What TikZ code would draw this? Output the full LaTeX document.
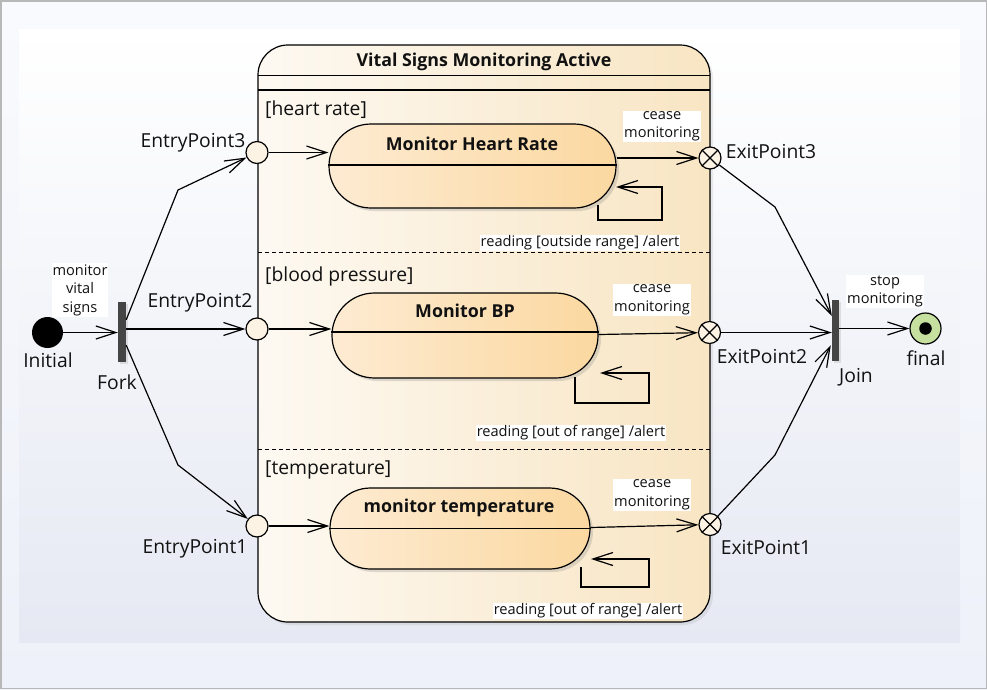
\documentclass[tikz,border=0pt]{standalone}
\usepackage{fontspec}
\setmainfont{Open Sans}
\usetikzlibrary{arrows.meta,shapes.misc,shadows,calc}
\definecolor{txt}{HTML}{111111}
\definecolor{bgTop}{HTML}{F9FAFD}
\definecolor{bgBot}{HTML}{EEF1F9}
\definecolor{inBot}{HTML}{E6E9F3}
\definecolor{compL}{HTML}{FDF9F2}
\definecolor{compR}{HTML}{F8E5C3}
\definecolor{stL}{HTML}{FDEBD2}
\definecolor{stR}{HTML}{FBD8A0}
\definecolor{entryfill}{HTML}{FDF3E4}
\definecolor{bardark}{HTML}{454545}
\definecolor{finalfill}{HTML}{C6E0A0}
\newcommand\bigf{\fontsize{19.3}{21}\selectfont}
\newcommand\smallf{\fontsize{14.6}{18.5}\selectfont}
\newcommand\boldf{\fontsize{17.8}{20}\selectfont\bfseries}
\tikzset{
  lbl/.style={font=\smallf, align=center, fill=white, inner sep=1pt, text=txt},
  biglbl/.style={font=\bigf, text=txt, inner sep=0pt},
  region/.style={font=\bigf, anchor=west, text=txt, inner sep=0pt},
  sttitle/.style={font=\boldf, text=txt, inner sep=0pt},
  stbox/.style={rounded rectangle, draw=black, line width=1.2pt, left color=stL, right color=stR,
    inner sep=0pt, drop shadow={shadow xshift=3pt, shadow yshift=-3pt, opacity=0.25}},
  entryp/.style={circle, draw=black, line width=1.2pt, fill=entryfill, minimum size=22pt, inner sep=0pt},
  exitp/.style={circle, draw=black, line width=1.2pt, fill=entryfill, minimum size=22pt, inner sep=0pt},
  barnode/.style={rectangle, fill=bardark, minimum width=8pt, minimum height=60pt, inner sep=0pt,
    drop shadow={shadow xshift=2pt, shadow yshift=-2pt, opacity=0.2}},
  conn/.style={draw=black, line width=1.2pt, -{Straight Barb[length=20pt,width=13pt,line width=1.2pt]}},
  plain/.style={draw=black, line width=1.2pt},
}
\begin{document}
\begin{tikzpicture}[x=1pt,y=-1pt]
\useasboundingbox (0,0) rectangle (987,689);
% background
\fill[top color=bgTop, bottom color=bgBot] (0,0) rectangle (987,689);
\fill[top color=white, bottom color=inBot] (19,29) rectangle (960,642);
\draw[color=black!28, line width=1.5pt] (0.75,0.75) rectangle (986.25,688.25);

% composite state
\node[rectangle, rounded corners=30pt, draw=black, line width=1.2pt, left color=compL, right color=compR,
  minimum width=452pt, minimum height=577pt, inner sep=0pt,
  drop shadow={shadow xshift=3pt, shadow yshift=-3pt, opacity=0.15}] (comp) at (484,333.5) {};
\node[sttitle] (ctitle) at (484,62) {Vital Signs Monitoring Active};
\draw[plain] (258,75.5) -- (710,75.5);
\draw[plain] (258,90) -- (710,90);
\draw[line width=1pt, dash pattern=on 4pt off 3pt] (258,252.5) -- (710,252.5);
\draw[line width=1pt, dash pattern=on 4pt off 3pt] (258,449.5) -- (710,449.5);

% region labels
\node[region] (r1) at (265,110) {[heart rate]};
\node[region] (r2) at (265,276) {[blood pressure]};
\node[region] (r3) at (265,470) {[temperature]};

% states
\node[stbox, minimum width=287pt, minimum height=84pt] (hr) at (472.5,166) {};
\draw[plain] ([yshift=1pt]hr.west) -- ([yshift=1pt]hr.east);
\node[sttitle] (hrT) at (472,144) {Monitor Heart Rate};

\node[stbox, minimum width=266pt, minimum height=85pt] (bp) at (465,335.5) {};
\draw[plain] ([yshift=3.5pt]bp.west) -- ([yshift=3.5pt]bp.east);
\node[sttitle] (bpT) at (465,311) {Monitor BP};

\node[stbox, minimum width=260pt, minimum height=81pt] (tp) at (460,528.5) {};
\draw[plain] (tp.west) -- (tp.east);
\node[sttitle] (tpT) at (459,508) {monitor temperature};

% entry / exit points
\node[entryp] (en3) at (257,152.5) {};
\node[entryp] (en2) at (257,329) {};
\node[entryp] (en1) at (257,526) {};
\node[exitp] (ex3) at (710,158) {};
\node[exitp] (ex2) at (709.5,332.5) {};
\node[exitp] (ex1) at (710,524.5) {};
\foreach \e in {ex1,ex2,ex3}{
  \draw[line width=1.2pt] (\e.45) -- (\e.225) (\e.135) -- (\e.315);
}

% pseudo states
\node[circle, fill=black, minimum size=31pt, inner sep=0pt] (init) at (47.5,332.5) {};
\node[barnode] (fork) at (122,332) {};
\node[barnode, minimum width=7pt, minimum height=61pt] (join) at (835.5,330.5) {};
\node[circle, draw=black, line width=1.2pt, fill=finalfill, minimum size=31pt, inner sep=0pt] (final) at (925.5,328.5) {};
\node[circle, fill=black, minimum size=12.5pt, inner sep=0pt] (finaldot) at (final.center) {};

% labels of pseudo states and points
\node[biglbl] (linit) at (48,360) {Initial};
\node[biglbl] (lfork) at (117,382) {Fork};
\node[biglbl] (ljoin) at (856,377) {Join};
\node[biglbl] (lfinal) at (926,358) {final};
\node[biglbl] (len3) at (193,143) {EntryPoint3};
\node[biglbl] (len2) at (200,303) {EntryPoint2};
\node[biglbl] (len1) at (195,549) {EntryPoint1};
\node[biglbl] (lex3) at (771,152) {ExitPoint3};
\node[biglbl] (lex2) at (762,357) {ExitPoint2};
\node[biglbl] (lex1) at (766,547) {ExitPoint1};

% transitions outside
\draw[conn] (init) -- (fork.west |- init);
\draw[conn] (fork.east |- en2) -- (en2);
\coordinate (fk3) at (178,190);
\coordinate (fk1) at (178,465);
\draw[conn] ($(fork.north east)+(0,18)$) -- (fk3) -- (en3);
\draw[conn] ($(fork.south east)+(0,-17)$) -- (fk1) -- (en1);
\coordinate (jn3) at (775,207);
\coordinate (jn1) at (775,455);
\draw[conn] (ex3) -- (jn3) -- ($(join.north west)+(0,16)$);
\draw[conn] (ex2) -- (join.west |- ex2);
\draw[conn] (ex1) -- (jn1) -- ($(join.south west)+(-1,-16)$);
\draw[conn] (join.east |- final) -- (final);
\node[lbl] (lmon) at (80,290) {monitor\\vital\\signs};
\node[lbl] (lstop) at (885,291.5) {stop\\monitoring};

% transitions inside
\draw[conn] (en3) -- (hr.west |- en3);
\draw[conn] (en2) -- (bp.west |- en2);
\draw[conn] (en1) -- (tp.west |- en1);
\draw[conn] ($(hr.east)+(0,-8)$) -- (ex3);
\draw[conn] ($(bp.east)+(0,-1)$) -- (ex2);
\draw[conn] ($(tp.east)+(0,-1)$) -- (ex1);

% self loops
\coordinate (hl1) at (598,205);
\coordinate (hl2) at (598,220);
\coordinate (hl3) at (662,220);
\coordinate (hl4) at (662,187);
\coordinate (hl5) at (616,187);
\draw[conn] (hl1) -- (hl2) -- (hl3) -- (hl4) -- (hl5);
\coordinate (bl1) at (575,377);
\coordinate (bl2) at (575,403);
\coordinate (bl3) at (649,403);
\coordinate (bl4) at (649,373);
\coordinate (bl5) at (600,373);
\draw[conn] (bl1) -- (bl2) -- (bl3) -- (bl4) -- (bl5);
\coordinate (tl1) at (581,567);
\coordinate (tl2) at (581,587);
\coordinate (tl3) at (649,587);
\coordinate (tl4) at (649,559);
\coordinate (tl5) at (591,559);
\draw[conn] (tl1) -- (tl2) -- (tl3) -- (tl4) -- (tl5);

% transition labels
\node[lbl] (lc3) at (662,126.5) {cease\\monitoring};
\node[lbl] (lc2) at (652,300) {cease\\monitoring};
\node[lbl] (lc1) at (652,495) {cease\\monitoring};
\node[lbl] (lr3) at (580,243) {reading [outside range] /alert};
\node[lbl] (lr2) at (571,433) {reading [out of range] /alert};
\node[lbl] (lr1) at (588,611) {reading [out of range] /alert};
\end{tikzpicture}
\end{document}
